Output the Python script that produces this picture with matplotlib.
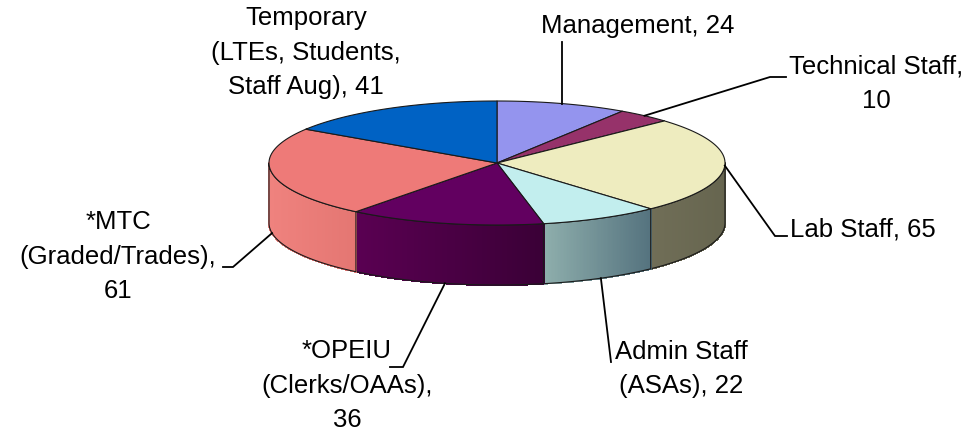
import numpy as np
import matplotlib.pyplot as plt
from matplotlib.patches import Polygon
from matplotlib.colors import to_rgb

plt.rcParams['font.family'] = ['Liberation Sans', 'DejaVu Sans']

# data, clockwise from 12 o'clock
categories = ['Management', 'Technical Staff', 'Lab Staff', 'Admin Staff',
              '*OPEIU', '*MTC', 'Temporary']
values = [24, 10, 65, 22, 36, 61, 41]
label_fmt = ['Management, {}', 'Technical Staff,\n{}', 'Lab Staff, {}',
             'Admin Staff\n(ASAs), {}', '*OPEIU\n(Clerks/OAAs),\n{}',
             '*MTC\n(Graded/Trades),\n{}', 'Temporary\n(LTEs, Students,\nStaff Aug), {}']

top_colors = ['#9494ee', '#96326a', '#eeecbf', '#c2eeee', '#620060', '#ee7a78', '#0062c4']
# side shading (left, right) -- only the front wedges show a side
side_colors = [('#7474c0', '#6a6ab0'), ('#7a2454', '#6e2050'), ('#706e57', '#66654f'),
               ('#8eaeac', '#54727e'), ('#5a0052', '#3a0036'), ('#ef827e', '#e47672'),
               ('#0050a0', '#004890')]

# label placement: x, last-line baseline y, horizontal alignment
label_pos = [(638, 33, 'center'), (876, 108, 'center'), (790, 236, 'left'),
             (681, 393, 'center'), (347, 427, 'center'), (118, 298, 'center'),
             (306, 94, 'center')]
# extra leader points after the anchor on the pie (None = no leader)
leader_pts = [[(None, 42)], [(770, 77), (786, 77)], [(775, 236), (787, 236)],
              [(611, 362)], [(403, 367), (390, 367)], [(233, 267), (223, 267)], None]

cx, cy, rx, ry, depth = 497, 163, 228, 62, 60
edge = '#1a1a1a'


def ell(phi):
    r = np.radians(phi)
    return cx + rx * np.sin(r), cy - ry * np.cos(r)


fig = plt.figure(figsize=(9.8, 4.32), dpi=100)
ax = fig.add_axes([0, 0, 1, 1])
ax.set_xlim(0, 980)
ax.set_ylim(432, 0)
ax.axis('off')

bounds = np.concatenate([[0], np.cumsum(values)]) / sum(values) * 360

# sides (front half only)
for i in range(len(values)):
    a, b = max(bounds[i], 90), min(bounds[i + 1], 270)
    if a >= b:
        continue
    phis = np.linspace(a, b, 80)
    xs, ys = ell(phis)
    c0 = np.array(to_rgb(side_colors[i][0]))
    c1 = np.array(to_rgb(side_colors[i][1]))
    for k in range(len(phis) - 1):
        xm = (xs[k] + xs[k + 1]) / 2
        frac = (xm - xs[-1]) / (xs[0] - xs[-1])
        col = c0 + (c1 - c0) * frac
        quad = [(xs[k], ys[k]), (xs[k + 1], ys[k + 1]),
                (xs[k + 1], ys[k + 1] + depth), (xs[k], ys[k] + depth)]
        ax.add_patch(Polygon(quad, closed=True, facecolor=col, edgecolor=col,
                             lw=0.8, antialiased=False))
    outline = list(zip(xs, ys)) + list(zip(xs[::-1], ys[::-1] + depth))
    ax.add_patch(Polygon(outline, closed=True, fill=False, edgecolor=edge, lw=0.8))

# top face
for i in range(len(values)):
    phis = np.linspace(bounds[i], bounds[i + 1], 120)
    xs, ys = ell(phis)
    pts = [(cx, cy)] + list(zip(xs, ys))
    ax.add_patch(Polygon(pts, closed=True, facecolor=top_colors[i], edgecolor=edge,
                         lw=0.8, joinstyle='round'))

# leaders and labels
for i, v in enumerate(values):
    mid = (bounds[i] + bounds[i + 1]) / 2
    x0, y0 = ell(mid)
    if 95 < mid < 265:
        y0 += depth
    if leader_pts[i] is not None:
        px = [x0] + [x0 if p[0] is None else p[0] for p in leader_pts[i]]
        py = [y0] + [p[1] for p in leader_pts[i]]
        ax.plot(px, py, color='black', lw=1.3, solid_joinstyle='miter')
    x, y, ha = label_pos[i]
    ax.text(x, y, label_fmt[i].format(v), ha=ha, va='baseline', ma='center',
            fontsize=18.5, linespacing=1.55, color='black')

fig.savefig('out.png', dpi=100)
